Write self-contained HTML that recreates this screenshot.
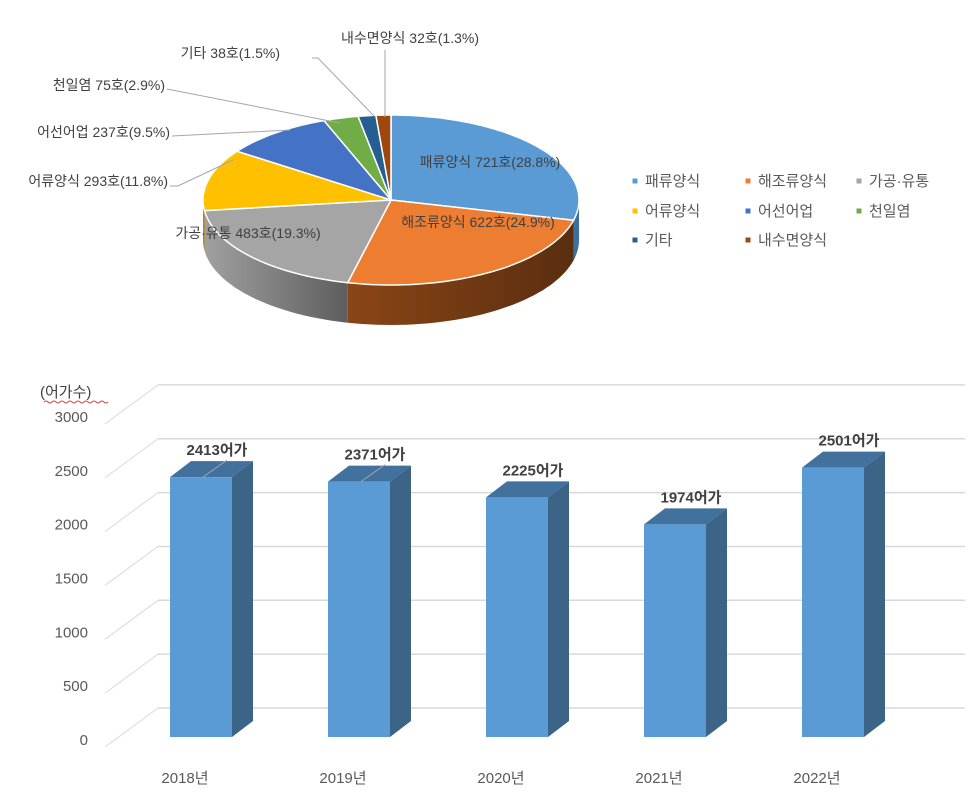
<!DOCTYPE html>
<html><head><meta charset="utf-8">
<style>
html,body{margin:0;padding:0;background:#fff;}
svg{display:block;font-family:"Liberation Sans","Noto Sans CJK KR",sans-serif;}
</style></head>
<body>
<svg id="c" width="977" height="794" viewBox="0 0 977 794" xmlns="http://www.w3.org/2000/svg">
<defs>
<linearGradient id="sideGray" x1="0" x2="1" y1="0" y2="0"><stop offset="0" stop-color="#a0a0a0"/><stop offset="1" stop-color="#5e5e5e"/></linearGradient>
<linearGradient id="sideOrange" x1="0" x2="1" y1="0" y2="0"><stop offset="0" stop-color="#8a4516"/><stop offset="1" stop-color="#5a2e10"/></linearGradient>
</defs>
<g id="pie"></g>
<g id="legend"></g>
<g id="bars"></g>
</svg>
<script>
// ---- Pie data ----
const pieLabels = ["패류양식","해조류양식","가공·유통","어류양식","어선어업","천일염","기타","내수면양식"];
const pieCounts = [721,622,483,293,237,75,38,32];
const piePcts = [28.8,24.9,19.3,11.8,9.5,2.9,1.5,1.3];
// ---- Bar data ----
const barYears = ["2018년","2019년","2020년","2021년","2022년"];
const barValues = [2413,2371,2225,1974,2501];
const yTicks = [0,500,1000,1500,2000,2500,3000];

const NS="http://www.w3.org/2000/svg";
function mk(tag,attrs,parent,text){const e=document.createElementNS(NS,tag);for(const k in attrs)e.setAttribute(k,attrs[k]);if(text!==undefined)e.textContent=text;parent.appendChild(e);return e;}

// ---- Pie ----
const pieColors=["#5B9BD5","#ED7D31","#A5A5A5","#FFC000","#4472C4","#70AD47","#255E91","#9E480E"];
const sideColors=["#3d6f9c","url(#sideOrange)","url(#sideGray)","#b88a00","#2f5190","#4f7d32","#1a4266","#6e320a"];
const cx=391,cy=200,rx=188,ry=85,depth=40;
const pieG=document.getElementById('pie');
const total=pieCounts.reduce((a,b)=>a+b,0);
function pt(a,dy){return [cx+rx*Math.sin(a), cy-ry*Math.cos(a)+(dy||0)];}
let acc=0;const angles=[];
pieCounts.forEach(v=>{const a0=acc/total*2*Math.PI;acc+=v;angles.push([a0,acc/total*2*Math.PI]);});
// sides
angles.forEach(([a0,a1],i)=>{
  const s=Math.max(a0,Math.PI/2),e=Math.min(a1,3*Math.PI/2);
  if(e<=s)return;
  let d="";const n=40;
  for(let k=0;k<=n;k++){const p=pt(s+(e-s)*k/n);d+=(k?"L":"M")+p[0].toFixed(1)+","+p[1].toFixed(1);}
  for(let k=n;k>=0;k--){const p=pt(s+(e-s)*k/n,depth);d+="L"+p[0].toFixed(1)+","+p[1].toFixed(1);}
  const el=mk('path',{d:d+"Z",fill:sideColors[i]},pieG);
  
  
});
// tops
angles.forEach(([a0,a1],i)=>{
  let d="M"+cx+","+cy;const n=Math.max(4,Math.ceil((a1-a0)*30));
  for(let k=0;k<=n;k++){const p=pt(a0+(a1-a0)*k/n);d+="L"+p[0].toFixed(1)+","+p[1].toFixed(1);}
  const el=mk('path',{d:d+"Z",fill:pieColors[i],stroke:"#fff","stroke-width":1.5},pieG);
  
  
});
// labels
const labelPos=[[490,167,"middle"],[478,227,"middle"],[248,238,"middle"],[168,186,"end"],[170,137,"end"],[165,90,"end"],[280,58,"end"],[410,43,"middle"]];
const leaderEnd=[null,null,null,[233,160],[290,130],[340,123],[374,116],[385,117]];
const leaderStart=[null,null,null,[170,186],[172,136],[167,89],[312,58],[385,50]];
pieLabels.forEach((l,i)=>{
  const [x,y,anc]=labelPos[i];
  if(leaderEnd[i]){
    const ln=mk('polyline',{points:leaderStart[i].join(",")+" "+(i==3?"178,186 ":"")+(i==6?"318,58 ":"")+leaderEnd[i].join(","),fill:"none",stroke:"#a6a6a6","stroke-width":1},pieG);
    
    
  }
  const t=mk('text',{x:x,y:y,"text-anchor":anc,"font-size":14,fill:i<3?"#404040":"#404040"},pieG,l+" "+pieCounts[i]+"호("+piePcts[i]+"%)");
  
  
});
// legend
const legG=document.getElementById('legend');
const legX=[635,748,859],legY=[181,211,240];
pieLabels.forEach((l,i)=>{
  const x=legX[i%3],y=legY[Math.floor(i/3)];
  const r=mk('rect',{x:x-2.5,y:y-2.5,width:5,height:5,fill:pieColors[i]},legG);
  
  
  const t=mk('text',{x:x+10,y:y+5,"font-size":15,fill:"#595959"},legG,l);
  
  
});

// ---- Bars ----
const bG=document.getElementById('bars');
const maxV=3000;
const backY0=708,backX0=158,backX1=965,frontX=105,frontY0=749,scale=0.1077;
function yBack(v){return backY0-v*scale;}
function yFront(v){return frontY0-v*scale;}
yTicks.forEach(v=>{
  const g1=mk('line',{x1:backX0,y1:yBack(v),x2:backX1,y2:yBack(v),stroke:"#d9d9d9","stroke-width":1.5},bG);
  
  
  const g2=mk('line',{x1:frontX,y1:yFront(v)-2,x2:backX0,y2:yBack(v),stroke:"#d9d9d9","stroke-width":1},bG);
  
  
  const t=mk('text',{x:88,y:yFront(v)-4,"text-anchor":"end","font-size":15,fill:"#595959"},bG,String(v));
  
  
});
const ttl=mk('text',{x:40,y:397,"font-size":15,fill:"#404040"},bG,"(어가수)");


const sq=mk('path',{d:"M44,402 q2,-2 4,0 t4,0 t4,0 t4,0 t4,0 t4,0 t4,0 t4,0 t4,0 t4,0 t4,0 t4,0 t4,0 t4,0 t4,0 t4,0",fill:"none",stroke:"#e04040","stroke-width":1},bG);


const barBottom=737,barW=62,dx=21,dy=16,step=158,firstC=201;
barYears.forEach((yr,i)=>{
  const c=firstC+i*step,x0=c-barW/2,x1=c+barW/2;
  const top=barBottom-barValues[i]*scale;
  const side=mk('polygon',{points:`${x1},${top} ${x1+dx},${top-dy} ${x1+dx},${barBottom-dy} ${x1},${barBottom}`,fill:"#3b6487"},bG);
  
  
  const tp=mk('polygon',{points:`${x0},${top} ${x0+dx},${top-dy} ${x1+dx},${top-dy} ${x1},${top}`,fill:"#41719c"},bG);
  
  
  const fr=mk('rect',{x:x0,y:top,width:barW,height:barBottom-top,fill:"#5B9BD5"},bG);
  
  
  const lbl=mk('text',{x:c+16,y:top-22,"text-anchor":"middle","font-size":15,"font-weight":"bold",fill:"#404040"},bG,barValues[i]+"어가");
  
  
  if(i<2){
    const ld=mk('line',{x1:c+26,y1:top-17,x2:c+2,y2:top,stroke:"#a6a6a6","stroke-width":1},bG);
    
    
  }
  const xl=mk('text',{x:c-16,y:783,"text-anchor":"middle","font-size":15,fill:"#595959"},bG,yr);
  
  
});
</script>
</body></html>
